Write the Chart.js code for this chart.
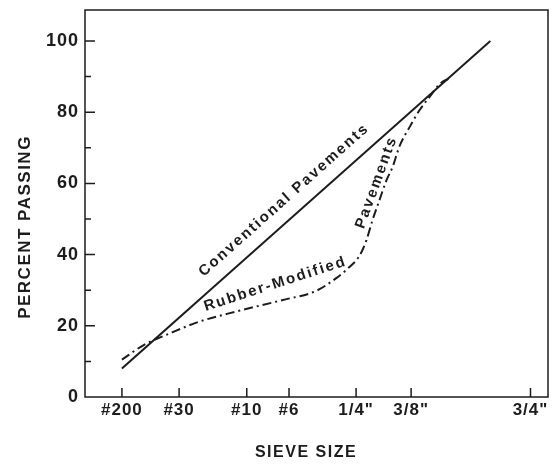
<!DOCTYPE html>
<html>
<head>
<meta charset="utf-8">
<script src="https://cdn.jsdelivr.net/npm/chart.js@4.4.1/dist/chart.umd.min.js"></script>
<style>
  html, body { margin: 0; padding: 0; background: #fff; }
  #wrap { width: 554px; height: 464px; }
</style>
</head>
<body>
<div id="wrap"><canvas id="myChart"></canvas></div>
<script>
// sieve sizes (mm) on a 0.45 power gradation chart
const sieveMm = [0.075, 0.6, 2.0, 3.35, 6.3, 9.5, 19.0];
const sieveLabels = ["#200", "#30", "#10", "#6", "1/4\"", "3/8\"", "3/4\""];
const percentTicks = [0, 20, 40, 60, 80, 100];

// conventional pavements
const conventionalMm = [0.075, 15.4];
const conventionalPct = [8, 100];

// rubber-modified pavements
const rubberMm = [0.075, 0.21, 0.49, 0.91, 1.79, 3.1, 4.42, 5.32, 5.96, 6.47, 6.85, 7.18, 7.57, 7.98, 8.34, 8.77, 9.4, 10.06, 10.74, 11.45, 12.19];
const rubberPct = [10.5, 14.6, 18, 21.1, 24.2, 27.2, 29.8, 33.4, 36.5, 39.6, 44.1, 49.7, 55.3, 60.9, 64.6, 70.5, 75.8, 80.6, 84.3, 87.9, 89.6];

const pw = (mm) => Math.pow(mm, 0.45);
const ink = "#1c1c1c";
const family = "'Liberation Sans', Arial, sans-serif";

const curveLabels = [
  { text: "Conventional Pavements", mm: 3.17, pct: 55.3, angle: null },
  { text: "Rubber-Modified", mm: 2.87, pct: 31.7, angle: -18 },
  { text: "Pavements", mm: 7.4, pct: 60.3, angle: -70 },
];

const data = {
  datasets: [
    {
      label: "Conventional Pavements",
      data: conventionalMm.map((m, i) => ({ x: pw(m), y: conventionalPct[i] })),
      borderColor: ink,
      borderWidth: 2,
      pointRadius: 0,
    },
    {
      label: "Rubber-Modified Pavements",
      data: rubberMm.map((m, i) => ({ x: pw(m), y: rubberPct[i] })),
      borderColor: ink,
      borderWidth: 2,
      borderDash: [9, 4, 2, 4],
      pointRadius: 0,
      cubicInterpolationMode: "monotone",
    },
  ],
};

const noPad = (s) => {
  s.paddingTop = 0; s.paddingBottom = 0; s.paddingLeft = 0; s.paddingRight = 0;
};

const frame = {
  id: "frame",
  beforeDraw(chart) {
    chart.ctx.letterSpacing = "1px";
  },
  afterDatasetsDraw(chart) {
    const { ctx, chartArea: a, scales: { x, y } } = chart;
    ctx.save();
    ctx.strokeStyle = ink;
    ctx.lineWidth = 1.5;
    ctx.strokeRect(a.left, a.top, a.right - a.left, a.bottom - a.top);

    // inward ticks
    ctx.beginPath();
    sieveMm.forEach((m) => {
      const px = x.getPixelForValue(pw(m));
      ctx.moveTo(px, a.bottom);
      ctx.lineTo(px, a.bottom - 9);
    });
    for (let v = 10; v <= 100; v += 10) {
      const py = y.getPixelForValue(v);
      ctx.moveTo(a.left, py);
      ctx.lineTo(a.left + (v % 20 ? 6 : 10), py);
    }
    ctx.stroke();

    // labels written along the curves
    const p0 = { x: x.getPixelForValue(pw(conventionalMm[0])), y: y.getPixelForValue(conventionalPct[0]) };
    const p1 = { x: x.getPixelForValue(pw(conventionalMm[1])), y: y.getPixelForValue(conventionalPct[1]) };
    const lineAngle = Math.atan2(p1.y - p0.y, p1.x - p0.x);
    ctx.fillStyle = ink;
    ctx.font = "bold 15px " + family;
    ctx.letterSpacing = "2px";
    ctx.textAlign = "center";
    ctx.textBaseline = "middle";
    curveLabels.forEach((l) => {
      ctx.save();
      ctx.translate(x.getPixelForValue(pw(l.mm)), y.getPixelForValue(l.pct));
      ctx.rotate(l.angle === null ? lineAngle : (l.angle * Math.PI) / 180);
      ctx.fillText(l.text, 0, 0);
      ctx.restore();
    });

    // axis titles
    ctx.font = "bold 17px " + family;
    ctx.letterSpacing = "1.5px";
    ctx.save();
    ctx.translate(25, 227);
    ctx.rotate(-Math.PI / 2);
    ctx.fillText("PERCENT PASSING", 0, 0);
    ctx.restore();
    ctx.font = "bold 16px " + family;
    ctx.fillText("SIEVE SIZE", 306, 453);
    ctx.restore();
  },
};

const config = {
  type: "line",
  data: data,
  options: {
    responsive: true,
    maintainAspectRatio: false,
    animation: false,
    layout: { padding: { top: 10, right: 6, left: 0, bottom: 0 } },
    plugins: { legend: { display: false }, tooltip: { enabled: false } },
    scales: {
      x: {
        type: "linear",
        min: 0,
        max: 3.91,
        afterBuildTicks: (s) => { s.ticks = sieveMm.map((m) => ({ value: pw(m) })); },
        afterFit: (s) => { s.height = 67; noPad(s); },
        grid: { display: false, drawTicks: false },
        border: { display: false },
        ticks: {
          autoSkip: false,
          maxRotation: 0,
          padding: 3,
          color: ink,
          font: { family: family, size: 17, weight: "bold" },
          callback: (v, i) => sieveLabels[i],
        },
      },
      y: {
        min: 0,
        max: 108.7,
        afterBuildTicks: (s) => { s.ticks = percentTicks.map((v) => ({ value: v })); },
        afterFit: (s) => { s.width = 85; noPad(s); },
        grid: { display: false, drawTicks: false },
        border: { display: false },
        ticks: {
          autoSkip: false,
          padding: 6,
          color: ink,
          font: { family: family, size: 18, weight: "bold" },
        },
      },
    },
  },
  plugins: [frame],
};

const myChart = new Chart(document.getElementById("myChart"), config);
</script>
</body>
</html>
